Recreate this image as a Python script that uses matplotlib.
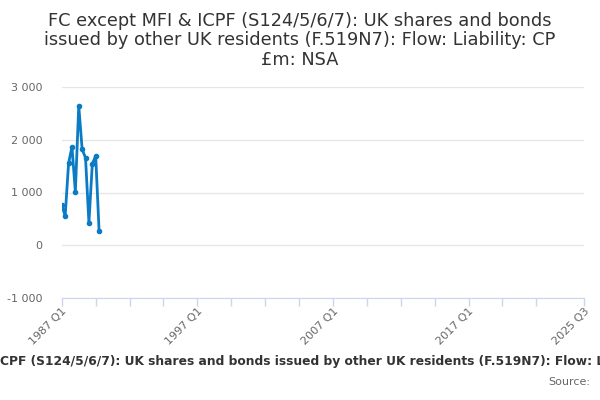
import numpy as np
import matplotlib.pyplot as plt
from matplotlib.ticker import FuncFormatter

# quarterly values, 1987 Q1 .. 1989 Q4
quarters = ['1987 Q1', '1987 Q2', '1987 Q3', '1987 Q4',
            '1988 Q1', '1988 Q2', '1988 Q3', '1988 Q4',
            '1989 Q1', '1989 Q2', '1989 Q3', '1989 Q4']
values = [755, 561, 1555, 1865, 1013, 2645, 1819, 1658, 426, 1542, 1697, 271]

# axis runs 1987 Q1 .. 2025 Q3
tick_labels = ['1987 Q1', '1997 Q1', '2007 Q1', '2017 Q1', '2025 Q3']
tick_pos = [0, 40, 80, 120, 154]
minor_pos = list(range(0, 150, 10)) + [154]

title = ('FC except MFI & ICPF (S124/5/6/7): UK shares and bonds\n'
         'issued by other UK residents (F.519N7): Flow: Liability: CP\n'
         '£m: NSA')
caption = ('FC except MFI & ICPF (S124/5/6/7): UK shares and bonds issued by other '
           'UK residents (F.519N7): Flow: Liability: CP £m: NSA')

plt.rcParams['font.family'] = ['DejaVu Sans']

fig = plt.figure(figsize=(6, 4), dpi=100)
ax = fig.add_axes([0.103, 0.255, 0.870, 0.5275])

for s in ['top', 'right', 'left']:
    ax.spines[s].set_visible(False)
ax.spines['bottom'].set_color('#ccd6eb')

x = np.arange(len(values))
ax.plot(x, values, color='#0a7bc4', lw=2, marker='o', ms=3)

ax.set_xlim(0, 154)
ax.set_ylim(-1000, 3000)
ax.set_yticks([-1000, 0, 1000, 2000, 3000])
ax.yaxis.set_major_formatter(FuncFormatter(lambda v, p: f'{int(v):,}'.replace(',', ' ')))
ax.grid(axis='y', color='#e6e6e6', lw=1)
ax.set_axisbelow(True)

ax.set_xticks(minor_pos)
ax.set_xticklabels([tick_labels[tick_pos.index(p)] if p in tick_pos else '' for p in minor_pos])
ax.tick_params(axis='x', colors='#ccd6eb', length=6, width=1, labelcolor='#666666',
               labelsize=8, labelrotation=45, pad=0)
ax.tick_params(axis='y', length=0, labelcolor='#666666', labelsize=8, pad=14)
plt.setp(ax.get_xticklabels(), ha='right', rotation_mode='anchor')

fig.text(0.5, 0.97, title, ha='center', va='top', fontsize=12.8, color='#333333',
         linespacing=1.1)
fig.text(0.517, 0.095, caption, ha='center', va='center', fontsize=8.8, fontweight='bold',
         color='#333333')
fig.text(0.983, 0.045, 'Source:', ha='right', va='center', fontsize=8, color='#666666')

fig.savefig('out.png', dpi=100)
